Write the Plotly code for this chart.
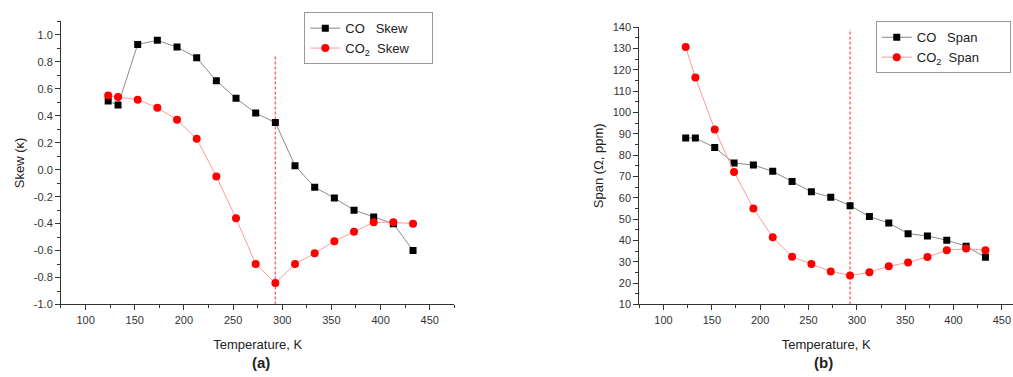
import plotly.graph_objects as go

# ---- data ----
temperature = [123, 133, 153, 173, 193, 213, 233, 253, 273, 293, 313, 333, 353, 373, 393, 413, 433]
co_skew = [0.51, 0.48, 0.93, 0.96, 0.91, 0.83, 0.66, 0.53, 0.42, 0.35, 0.03, -0.13, -0.21, -0.30, -0.35, -0.40, -0.60]
co2_skew = [0.55, 0.54, 0.52, 0.46, 0.37, 0.23, -0.05, -0.36, -0.70, -0.84, -0.70, -0.62, -0.53, -0.46, -0.39, -0.39, -0.40]
co_span = [88, 88, 83.5, 76.3, 75.3, 72.4, 67.6, 62.8, 60.3, 56.3, 51.2, 48.2, 43.2, 42.1, 40.1, 37.3, 32.1]
co2_span = [130.6, 116.3, 92.0, 72.1, 55.0, 41.5, 32.4, 29.0, 25.5, 23.6, 25.1, 27.9, 29.7, 32.3, 35.4, 36.2, 35.4]

room_temp = 293
skew_marker_line = [-1.0, 0.85]
span_marker_line = [10, 139]

skew_ticks = [-1.0, -0.8, -0.6, -0.4, -0.2, 0.0, 0.2, 0.4, 0.6, 0.8, 1.0]
skew_ticktext = ["-1.0", "-0.8", "-0.6", "-0.4", "-0.2", "0.0", "0.2", "0.4", "0.6", "0.8", "1.0"]
span_ticks = [10, 20, 30, 40, 50, 60, 70, 80, 90, 100, 110, 120, 130, 140]
temp_ticks = [100, 150, 200, 250, 300, 350, 400, 450]

FONT = "Liberation Sans, Arial, sans-serif"
CO_LINE = "#8a8a8a"
CO2_LINE = "#ff9a9a"
PAD_A = "&nbsp;" * 5
PAD_B = "&nbsp;" * 7

fig = go.Figure()

fig.add_trace(go.Scatter(x=temperature, y=co_skew, mode="lines+markers",
                         name="CO&nbsp;&nbsp;&nbsp;Skew" + PAD_A,
                         line=dict(color=CO_LINE, width=1),
                         marker=dict(symbol="square", size=7, color="black"),
                         xaxis="x", yaxis="y", legend="legend"))
fig.add_trace(go.Scatter(x=temperature, y=co2_skew, mode="lines+markers",
                         name="CO<sub>2</sub>&nbsp;&nbsp;Skew" + PAD_A,
                         line=dict(color=CO2_LINE, width=1),
                         marker=dict(symbol="circle", size=8, color="red"),
                         xaxis="x", yaxis="y", legend="legend"))
fig.add_trace(go.Scatter(x=temperature, y=co_span, mode="lines+markers",
                         name="CO&nbsp;&nbsp;&nbsp;Span" + PAD_B,
                         line=dict(color=CO_LINE, width=1),
                         marker=dict(symbol="square", size=7, color="black"),
                         xaxis="x2", yaxis="y2", legend="legend2"))
fig.add_trace(go.Scatter(x=temperature, y=co2_span, mode="lines+markers",
                         name="CO<sub>2</sub>&nbsp;&nbsp;Span" + PAD_B,
                         line=dict(color=CO2_LINE, width=1),
                         marker=dict(symbol="circle", size=8, color="red"),
                         xaxis="x2", yaxis="y2", legend="legend2"))

# vertical dashed reference lines
fig.add_shape(type="line", xref="x", yref="y", x0=room_temp, x1=room_temp,
              y0=skew_marker_line[0], y1=skew_marker_line[1],
              line=dict(color="#ff6a6a", width=1.5, dash="3px,2px"), layer="below")
fig.add_shape(type="line", xref="x2", yref="y2", x0=room_temp, x1=room_temp,
              y0=span_marker_line[0], y1=span_marker_line[1],
              line=dict(color="#ff6a6a", width=1.5, dash="3px,2px"), layer="below")

axis_common = dict(showline=True, linecolor="#333333", linewidth=1, showgrid=False,
                   zeroline=False, ticks="outside", ticklen=5, tickwidth=1, tickcolor="#333333",
                   tickfont=dict(family=FONT, size=11, color="#333333"))

fig.update_layout(
    width=1013, height=377,
    margin=dict(l=0, r=0, t=0, b=0),
    paper_bgcolor="white", plot_bgcolor="white",
    font=dict(family=FONT, color="#222222"),
    xaxis=dict(domain=[0.0602, 0.4485], range=[75, 475], anchor="y",
               tickvals=temp_ticks,
               minor=dict(ticks="outside", ticklen=3, dtick=25, tick0=75, tickcolor="#333333"),
               title=dict(text="Temperature, K", standoff=15, font=dict(family=FONT, size=13, color="#222222")),
               **axis_common),
    yaxis=dict(domain=[0.1822, 0.9576], range=[-1.0, 1.1], anchor="x",
               tickvals=skew_ticks, ticktext=skew_ticktext,
               minor=dict(ticks="outside", ticklen=3, dtick=0.1, tick0=-1.0, tickcolor="#333333"),
               title=dict(text="Skew (κ)", standoff=6, font=dict(family=FONT, size=13, color="#222222")),
               **axis_common),
    xaxis2=dict(domain=[0.6311, 1.0], range=[75, 461.5], anchor="y2",
                tickvals=temp_ticks,
                minor=dict(ticks="outside", ticklen=3, dtick=25, tick0=75, tickcolor="#333333"),
                title=dict(text="Temperature, K", standoff=15, font=dict(family=FONT, size=13, color="#222222")),
                **axis_common),
    yaxis2=dict(domain=[0.1822, 0.9424], range=[10, 140], anchor="x2",
                tickvals=span_ticks,
                minor=dict(ticks="outside", ticklen=3, dtick=5, tick0=10, tickcolor="#333333"),
                title=dict(text="Span (Ω, ppm)", standoff=6, font=dict(family=FONT, size=13, color="#222222")),
                **axis_common),
    legend=dict(x=0.3004, y=0.983, xanchor="left", yanchor="top",
                bordercolor="#999999", borderwidth=1, bgcolor="white",
                font=dict(family=FONT, size=13, color="#222222"),
                tracegroupgap=0, itemwidth=30),
    legend2=dict(x=0.8645, y=0.958, xanchor="left", yanchor="top",
                 bordercolor="#999999", borderwidth=1, bgcolor="white",
                 font=dict(family=FONT, size=13, color="#222222"),
                 tracegroupgap=0, itemwidth=30),
    showlegend=True,
)

fig.add_annotation(text="<b>(a)</b>", xref="paper", yref="paper", x=0.258, y=0.022,
                   xanchor="center", yanchor="middle",
                   showarrow=False, font=dict(family=FONT, size=15, color="#222222"))
fig.add_annotation(text="<b>(b)</b>", xref="paper", yref="paper", x=0.8125, y=0.022,
                   xanchor="center", yanchor="middle",
                   showarrow=False, font=dict(family=FONT, size=15, color="#222222"))

fig.write_html("out.html")
